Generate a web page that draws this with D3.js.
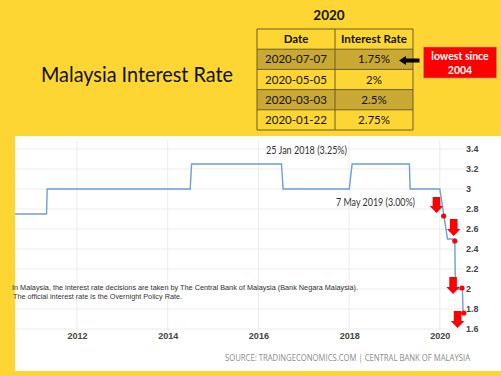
<!DOCTYPE html>
<html>
<head>
<meta charset="utf-8">
<script src="https://cdn.jsdelivr.net/npm/d3@7"></script>
<style>
  body { margin: 0; background: #fdd633; }
  svg { display: block; }
  .grid line { stroke: #ececec; stroke-width: 1; }
  .axis text { font-family: "Liberation Sans", Arial, sans-serif; font-size: 9px; font-weight: bold; fill: #444; }
</style>
</head>
<body>
<div id="chart"></div>
<script>

// table of the 2020 rate decisions
var tableDates = ["2020-07-07", "2020-05-05", "2020-03-03", "2020-01-22"];
var tableRates = ["1.75%", "2%", "2.5%", "2.75%"];
var tableHeader = ["Date", "Interest Rate"];

// the line (date, rate in %)
var lineDates = ["2010-08-20", "2011-05-01", "2011-05-06", "2014-07-01", "2014-07-12",
                 "2016-07-05", "2016-07-18", "2018-01-02", "2018-01-25", "2019-05-01",
                 "2019-05-07", "2020-01-01", "2020-03-03", "2020-05-01", "2020-05-05",
                 "2020-07-01", "2020-07-07"];
var lineRates = [2.75, 2.75, 3.0, 3.0, 3.25,
                 3.25, 3.0, 3.0, 3.25, 3.25,
                 3.0, 3.0, 2.5, 2.5, 2.0,
                 2.0, 1.75];

// red markers put on the line
var dotDates = ["2020-02-01", "2020-05-01", "2020-06-28", "2020-07-12"];
var dotRates = [2.73, 2.48, 2.01, 1.76];

// red down arrows (date, top value, tip value)
var arrowDates = ["2019-12-05", "2020-04-22", "2020-04-17", "2020-05-23"];
var arrowTops = [2.92, 2.70, 2.12, 1.78];
var arrowTips = [2.76, 2.53, 1.95, 1.61];

var yTicks = [1.6, 1.8, 2, 2.2, 2.4, 2.6, 2.8, 3, 3.2, 3.4];
var xTickYears = [2012, 2014, 2016, 2018, 2020];

var parseDate = d3.timeParse("%Y-%m-%d");

var W = 501, H = 376;

var svg = d3.select("#chart").append("svg")
    .attr("width", W)
    .attr("height", H);

// ---- top part: title, table, callout ----
svg.append("text")
    .attr("x", 41)
    .attr("y", 82)
    .attr("textLength", 192)
    .attr("lengthAdjust", "spacingAndGlyphs")
    .style("font-family", "Lato, 'Open Sans', sans-serif")
    .style("font-size", "20.5px")
    .style("fill", "#111")
    .text("Malaysia Interest Rate");

svg.append("text")
    .attr("x", 329)
    .attr("y", 20)
    .attr("text-anchor", "middle")
    .style("font-family", "Lato, sans-serif")
    .style("font-size", "13.5px")
    .style("font-weight", "bold")
    .style("fill", "#111")
    .text("2020");

var tx = d3.scaleLinear().domain([0, 1, 2]).range([257, 335, 413]);
var ty = d3.scaleLinear().domain([0, 5]).range([29, 130]);

var table = svg.append("g").attr("class", "table");

// rows 0 = header, 1..4 = data
table.selectAll(".row-bg")
    .data(d3.range(5))
    .enter().append("rect")
    .attr("class", "row-bg")
    .attr("x", tx(0))
    .attr("y", d => ty(d))
    .attr("width", tx(2) - tx(0))
    .attr("height", ty(1) - ty(0))
    .style("fill", d => (d === 1 || d === 3) ? "#c9a833" : "#fdd633");

table.selectAll(".hline")
    .data(d3.range(6))
    .enter().append("line")
    .attr("class", "hline")
    .attr("x1", tx(0)).attr("x2", tx(2))
    .attr("y1", d => ty(d)).attr("y2", d => ty(d))
    .style("stroke", "#6e5d22").style("stroke-width", 1);

table.selectAll(".vline")
    .data(d3.range(3))
    .enter().append("line")
    .attr("class", "vline")
    .attr("x1", d => tx(d)).attr("x2", d => tx(d))
    .attr("y1", ty(0)).attr("y2", ty(5))
    .style("stroke", "#6e5d22").style("stroke-width", 1);

table.selectAll(".head")
    .data(tableHeader)
    .enter().append("text")
    .attr("class", "head")
    .attr("x", (d, i) => (tx(i) + tx(i + 1)) / 2)
    .attr("y", ty(0.5) + 4)
    .attr("text-anchor", "middle")
    .style("font-family", "Lato, sans-serif")
    .style("font-size", "11.5px")
    .style("font-weight", "bold")
    .style("fill", "#111")
    .text(d => d);

var cells = [];
tableDates.forEach(function(d, i) {
    cells.push({ col: 0, row: i + 1, text: d });
    cells.push({ col: 1, row: i + 1, text: tableRates[i] });
});

table.selectAll(".cell")
    .data(cells)
    .enter().append("text")
    .attr("class", "cell")
    .attr("x", d => (tx(d.col) + tx(d.col + 1)) / 2)
    .attr("y", d => ty(d.row + 0.5) + 4)
    .attr("text-anchor", "middle")
    .style("font-family", "Lato, sans-serif")
    .style("font-size", "11.5px")
    .style("fill", "#111")
    .text(d => d.text);

// black arrow pointing at the first row
svg.append("path")
    .attr("d", "M399,60.5 L406,56 L406,58.5 L419.5,58.5 L419.5,62.5 L406,62.5 L406,65 Z")
    .style("fill", "#000");

// red callout
svg.append("rect")
    .attr("x", 423.5).attr("y", 47)
    .attr("width", 73).attr("height", 31)
    .style("fill", "#ff0000")
    .style("stroke", "#a0a0a0").style("stroke-width", 0.6);

svg.selectAll(".callout")
    .data(["lowest since", "2004"])
    .enter().append("text")
    .attr("class", "callout")
    .attr("x", 460)
    .attr("y", (d, i) => 60 + i * 14)
    .attr("text-anchor", "middle")
    .style("font-family", "Lato, sans-serif")
    .style("font-size", "10.5px")
    .style("font-weight", "bold")
    .style("fill", "#fff")
    .text(d => d);

// ---- chart panel ----
svg.append("rect")
    .attr("x", 15).attr("y", 136)
    .attr("width", W - 15).attr("height", 235)
    .style("fill", "#fff");

var x = d3.scaleTime()
    .domain([parseDate("2010-08-20"), parseDate("2020-07-30")])
    .range([15, 466]);

var y = d3.scaleLinear()
    .domain([1.6, 3.4])
    .range([329, 149]);

var xTicks = xTickYears.map(d => new Date(d, 0, 1));

var grid = svg.append("g").attr("class", "grid");

grid.selectAll(".hgrid")
    .data(yTicks)
    .enter().append("line")
    .attr("x1", 15).attr("x2", 464)
    .attr("y1", d => y(d)).attr("y2", d => y(d));

grid.selectAll(".vgrid")
    .data(xTicks)
    .enter().append("line")
    .attr("x1", d => x(d)).attr("x2", d => x(d))
    .attr("y1", 140).attr("y2", 330);

var yAxis = d3.axisRight(y)
    .tickValues(yTicks)
    .tickSize(0)
    .tickPadding(0)
    .tickFormat(d3.format("~g"));

svg.append("g")
    .attr("class", "y-axis axis")
    .attr("transform", "translate(466,0)")
    .call(yAxis)
    .call(g => g.select(".domain").remove());

var xAxis = d3.axisBottom(x)
    .tickValues(xTicks)
    .tickSize(0)
    .tickPadding(0)
    .tickFormat(d3.timeFormat("%Y"));

svg.append("g")
    .attr("class", "x-axis axis")
    .attr("transform", "translate(0,333)")
    .call(xAxis)
    .call(g => g.select(".domain").remove());

// explanatory text
svg.selectAll(".note")
    .data([
        { t: "In Malaysia,  the interest rate decisions are taken by The Central Bank of Malaysia (Bank Negara Malaysia).", x: 12, len: 346 },
        { t: "The official interest rate is the Overnight Policy Rate.", x: 13, len: 169 }
    ])
    .enter().append("text")
    .attr("class", "note")
    .attr("x", d => d.x)
    .attr("y", (d, i) => 289.5 + i * 9)
    .attr("textLength", d => d.len)
    .attr("lengthAdjust", "spacingAndGlyphs")
    .style("font-family", "'Liberation Sans', Arial, sans-serif")
    .style("font-size", "8px")
    .style("fill", "#333")
    .text(d => d.t);

// the rate line
var lineData = lineDates.map(function(d, i) {
    return { date: parseDate(d), value: lineRates[i] };
});

var line = d3.line()
    .x(d => x(d.date))
    .y(d => y(d.value));

svg.append("path")
    .datum(lineData)
    .attr("class", "line")
    .attr("d", line)
    .style("fill", "none")
    .style("stroke", "#6f9fcf")
    .style("stroke-width", 1.4);

// annotations
svg.append("text")
    .attr("x", 266).attr("y", 154)
    .attr("textLength", 81)
    .attr("lengthAdjust", "spacingAndGlyphs")
    .style("font-family", "Lato, sans-serif")
    .style("font-size", "11px")
    .style("fill", "#333")
    .text("25 Jan 2018 (3.25%)");

svg.append("text")
    .attr("x", 336).attr("y", 206)
    .attr("textLength", 79)
    .attr("lengthAdjust", "spacingAndGlyphs")
    .style("font-family", "Lato, sans-serif")
    .style("font-size", "11px")
    .style("fill", "#333")
    .text("7 May 2019 (3.00%)");

// red arrows
var arrowData = arrowDates.map(function(d, i) {
    return { date: parseDate(d), top: arrowTops[i], tip: arrowTips[i] };
});

svg.selectAll(".red-arrow")
    .data(arrowData)
    .enter().append("path")
    .attr("class", "red-arrow")
    .attr("d", function(d) {
        var cx = x(d.date), t = y(d.top), b = y(d.tip);
        var hs = 3.8, hh = 6.8, hl = 7;
        return "M" + (cx - hs) + "," + t + "L" + (cx + hs) + "," + t +
            "L" + (cx + hs) + "," + (b - hl) + "L" + (cx + hh) + "," + (b - hl) +
            "L" + cx + "," + b + "L" + (cx - hh) + "," + (b - hl) +
            "L" + (cx - hs) + "," + (b - hl) + "Z";
    })
    .style("fill", "#ff0000");

// red dots
svg.selectAll(".dot")
    .data(dotDates.map((d, i) => ({ date: parseDate(d), value: dotRates[i] })))
    .enter().append("circle")
    .attr("class", "dot")
    .attr("cx", d => x(d.date))
    .attr("cy", d => y(d.value))
    .attr("r", 2.6)
    .style("fill", "#ff0000");

// source
svg.append("text")
    .attr("x", 225).attr("y", 361)
    .attr("textLength", 245)
    .attr("lengthAdjust", "spacingAndGlyphs")
    .style("font-family", "'Open Sans', sans-serif")
    .style("font-size", "8.5px")
    .style("fill", "#8c8c8c")
    .text("SOURCE: TRADINGECONOMICS.COM | CENTRAL BANK OF MALAYSIA");

</script>
</body>
</html>
